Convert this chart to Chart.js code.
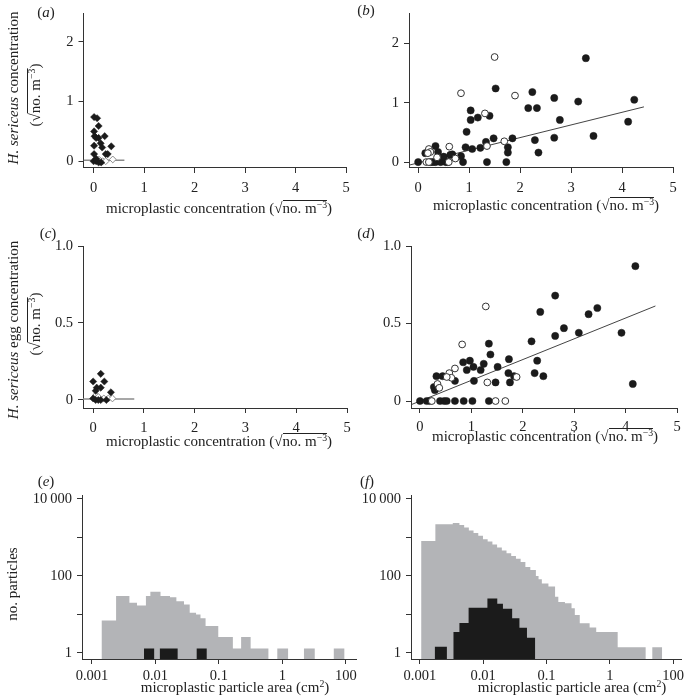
<!DOCTYPE html>
<html>
<head>
<meta charset="utf-8">
<script src="https://cdn.jsdelivr.net/npm/chart.js@4.4.1/dist/chart.umd.min.js"></script>
<style>
  body { margin: 0; background: #fff; }
  #fig { position: relative; width: 687px; height: 699px; overflow: hidden;
         font-family: "Liberation Serif", "Times New Roman", serif; color: #222; }
  #fig canvas { position: absolute; left: 0; top: 0; }
  .lbl { position: absolute; white-space: nowrap; font-size: 15px; line-height: 1;
         transform: translate(-50%, -50%); }
  .lbl.rot { transform: translate(-50%, -50%) rotate(-90deg); }
  .rt { display: inline-block; line-height: 12px; padding-top: 1px; border-top: 1px solid #222; }
  .sp { font-size: 65%; position: relative; top: -0.5em; }
</style>
</head>
<body>
<div id="fig"></div>
<script>
// ---- (a) adult concentration vs microplastic, first survey (diamonds)
const aSolidX = [0.01, 0.07, 0.10, 0.01, 0.02, 0.05, 0.10, 0.22, 0.14, 0.17, 0.01, 0.35, 0.01, 0.24, 0.28, 0.00, 0.05, 0.10, 0.15, 0.05];
const aSolidY = [0.74, 0.72, 0.59, 0.50, 0.42, 0.39, 0.39, 0.42, 0.30, 0.23, 0.26, 0.25, 0.12, 0.12, 0.12, 0.00, 0.00, -0.02, -0.02, 0.04];
const aOpenX = [0.10, 0.14, 0.18, 0.24, 0.38];
const aOpenY = [0.03, 0.00, 0.00, 0.00, 0.03];
const aFitX = [-0.2, 0.61];
const aFitY = [0.016, 0.016];

// ---- (b) adult concentration vs microplastic, second survey (circles)
const bSolidX = [0.00, 0.14, 0.24, 0.29, 0.34, 0.34, 0.39, 0.44, 0.50, 0.54, 0.58, 0.67, 0.63, 0.84, 0.88, 0.93, 0.95, 1.03, 1.03, 1.06, 1.17, 1.22,
                 1.33, 1.35, 1.40, 1.48, 1.52, 1.73, 1.76, 1.76, 1.85, 2.16, 2.24, 2.29, 2.33, 2.36, 2.67, 2.67, 2.78, 3.14, 3.29, 3.44, 4.12, 4.24];
const bSolidY = [0.00, 0.15, 0.00, 0.00, 0.27, 0.00, 0.17, 0.00, 0.09, 0.00, 0.00, 0.13, 0.12, 0.10, 0.00, 0.25, 0.51, 0.87, 0.71, 0.22, 0.75, 0.24,
                 0.34, 0.00, 0.78, 0.40, 1.24, 0.00, 0.25, 0.16, 0.40, 0.91, 1.18, 0.37, 0.91, 0.16, 0.41, 1.08, 0.71, 1.02, 1.75, 0.44, 0.68, 1.05];
const bOpenX = [1.50, 0.84, 1.90, 1.31, 0.61, 0.21, 0.24, 0.19, 1.35, 1.69, 0.73, 0.16, 0.21, 0.60, 0.37];
const bOpenY = [1.77, 1.16, 1.12, 0.82, 0.26, 0.22, 0.17, 0.15, 0.27, 0.35, 0.06, 0.00, 0.00, 0.00, 0.08];
const bFitX = [-0.17, 4.43];
const bFitY = [-0.05, 0.93];

// ---- (c) egg concentration, first survey
const cSolidX = [0.15, 0.00, 0.22, 0.07, 0.15, 0.05, 0.35, 0.00, 0.05, 0.10, 0.15, 0.26];
const cSolidY = [0.17, 0.12, 0.12, 0.08, 0.08, 0.06, 0.05, 0.01, 0.00, 0.00, 0.00, 0.00];
const cOpenX = [0.05, 0.10, 0.21, 0.30, 0.38];
const cOpenY = [0.03, 0.02, 0.01, 0.01, 0.01];
const cFitX = [-0.2, 0.81];
const cFitY = [0.007, 0.007];

// ---- (d) egg concentration, second survey
const dSolidX = [0.00, 0.13, 0.19, 0.27, 0.29, 0.32, 0.39, 0.44, 0.47, 0.52, 0.68, 0.68, 0.84, 0.85, 0.91, 0.97, 1.02, 1.04, 1.05, 1.18, 1.24, 1.34,
                 1.34, 1.37, 1.47, 1.51, 1.73, 1.72, 1.75, 1.83, 2.17, 2.23, 2.28, 2.34, 2.40, 2.63, 2.63, 2.80, 3.09, 3.28, 3.45, 3.92, 4.14, 4.19];
const dSolidY = [0.00, 0.00, 0.00, 0.09, 0.07, 0.16, 0.00, 0.16, 0.00, 0.00, 0.13, 0.00, 0.25, 0.00, 0.20, 0.26, 0.00, 0.22, 0.13, 0.20, 0.24, 0.37,
                 0.00, 0.30, 0.12, 0.22, 0.27, 0.18, 0.12, 0.16, 0.385, 0.18, 0.26, 0.575, 0.16, 0.42, 0.68, 0.47, 0.44, 0.56, 0.60, 0.44, 0.11, 0.87];
const dOpenX = [1.28, 0.82, 0.68, 0.57, 0.61, 0.52, 0.34, 0.375, 1.31, 1.88, 1.47, 1.66, 0.23];
const dOpenY = [0.61, 0.365, 0.21, 0.18, 0.15, 0.155, 0.11, 0.085, 0.12, 0.155, 0.00, 0.00, 0.00];
const dFitX = [-0.16, 4.58];
const dFitY = [-0.022, 0.613];

// ---- (e),(f) particle area histograms: bin edges in log10(cm2), counts per bin
const eGreyEdges = [-2.85, -2.62, -2.41, -2.29, -2.15, -2.08, -1.92, -1.77, -1.67, -1.55, -1.46, -1.36, -1.29, -1.21, -1.01, -0.78, -0.65,
                    -0.50, -0.22, -0.08, 0.09, 0.34, 0.51, 0.81, 0.98];
const eGreyCounts = [7, 30, 20, 17, 30, 39, 30, 28, 22, 18, 11, 10, 8, 5, 2.6, 1.3, 2.6, 1.3, 0, 1.3, 0, 1.3, 0, 1.3];
const eBlackEdges = [-2.18, -2.02, -1.93, -1.65, -1.35, -1.19];
const eBlackCounts = [1.3, 0, 1.3, 0, 1.3];

const fGreyEdges = [-2.98, -2.755, -2.48, -2.375, -2.30, -2.226, -2.152, -2.077, -2.003, -1.929, -1.854, -1.78, -1.705, -1.631, -1.557, -1.482,
                    -1.408, -1.333, -1.255, -1.167, -1.125, -1.073, -0.969, -0.864, -0.8125, -0.708, -0.604, -0.552, -0.474, -0.318, -0.214,
                    0.125, 0.567, 0.672, 0.828];
const fGreyCounts = [810, 2200, 2350, 2100, 1800, 1500, 1300, 1100, 900, 780, 650, 550, 460, 390, 330, 280, 230,
                     170, 143, 100, 82, 64, 53, 29, 21, 19.5, 14.5, 9.7, 5.9, 4.6, 3.5, 1.4, 0, 1.4];
const fBlackEdges = [-2.766, -2.573, -2.469, -2.375, -2.23, -1.933, -1.777, -1.6875, -1.542, -1.427, -1.308, -1.177];
const fBlackCounts = [1.45, 0, 3.5, 6, 15, 26, 19, 14, 8, 4.5, 2.5];

// ---- axis ticks
const concTicks = [0, 1, 2, 3, 4, 5];
const concLabels = ['0', '1', '2', '3', '4', '5'];
const adultTicks = [0, 1, 2];
const adultLabels = ['0', '1', '2'];
const eggTicks = [0, 0.5, 1];
const eggLabels = ['0', '0.5', '1.0'];
const areaTicks = [-3, -2, -1, 0, 1];
const areaLabels = ['0.001', '0.01', '0.1', '1', '100'];
const countTicks = [1, 10, 100, 1000, 10000];
const countLabels = ['1', '', '100', '', '10\u2009000'];

const W = 687, H = 699, YW = 60, XH = 40;
const COUNT_MIN = 0.698;
const FONT = "'Liberation Serif', 'Times New Roman', serif";
const INK = '#222';
const GREY = '#b3b4b7';
const BLACK = '#1b1b1b';

const pts = (xs, ys) => xs.map((x, i) => ({ x, y: ys[i] }));

// stepped outline for a histogram; empty bins sit on the bottom of the log axis
function steps(edges, counts) {
  const v = c => (c > 0 ? c : COUNT_MIN);
  const out = counts.map((c, i) => ({ x: edges[i], y: v(c) }));
  out.push({ x: edges[edges.length - 1], y: COUNT_MIN });
  return out;
}

function axis(dir, o) {
  return {
    type: o.type || 'linear',
    position: dir === 'x' ? 'bottom' : 'left',
    bounds: 'data',
    min: o.min,
    max: o.max,
    afterFit: s => { if (dir === 'x') s.height = XH; else s.width = YW; },
    afterBuildTicks: s => { s.ticks = o.ticks.map(v => ({ value: v })); },
    grid: { display: true, drawOnChartArea: false, drawTicks: true, tickLength: 5, color: '#333', lineWidth: 1 },
    border: { display: true, color: '#333', width: 1 },
    ticks: {
      autoSkip: false, maxRotation: 0, minRotation: 0,
      padding: o.pad, color: INK,
      font: { family: FONT, size: 14.5 },
      callback: (v, i) => o.labels[i]
    }
  };
}

function panel(box, xo, yo, datasets) {
  const cv = document.createElement('canvas');
  cv.width = W;
  cv.height = H;
  document.getElementById('fig').appendChild(cv);
  return new Chart(cv, {
    type: 'scatter',
    data: { datasets },
    options: {
      responsive: false,
      animation: false,
      devicePixelRatio: 1,
      events: [],
      layout: { padding: { left: box.left - YW, top: box.top, right: W - box.right, bottom: H - box.bottom - XH } },
      plugins: { legend: { display: false }, tooltip: { enabled: false } },
      scales: { x: axis('x', xo), y: axis('y', yo) }
    }
  });
}

const solid = (data, style) => ({ data, pointStyle: style, pointRadius: 3.6, pointBackgroundColor: BLACK, pointBorderColor: BLACK, pointBorderWidth: 0.5 });
const hollow = (data, style, col) => ({ data, pointStyle: style, pointRadius: 3.4, pointBackgroundColor: '#fff', pointBorderColor: col, pointBorderWidth: 1 });
const fit = (data, col, w) => ({ type: 'line', data, borderColor: col, borderWidth: w, pointRadius: 0, fill: false, tension: 0 });
const hist = (data, col) => ({ type: 'line', data, stepped: 'before', fill: 'start', backgroundColor: col, borderColor: 'rgba(0,0,0,0)', borderWidth: 0, pointRadius: 0 });

// (a)
panel({ left: 83.5, top: 8, right: 346, bottom: 168 },
  { min: -0.2, max: 5.0, ticks: concTicks, labels: concLabels, pad: 6 },
  { min: -0.113, max: 2.47, ticks: adultTicks, labels: adultLabels, pad: 5 },
  [solid(pts(aSolidX, aSolidY), 'rectRot'), hollow(pts(aOpenX, aOpenY), 'rectRot', '#8a8a8a'), fit(pts(aFitX, aFitY), '#8a8a8a', 1.5)]);

// (b)
panel({ left: 409, top: 7, right: 673, bottom: 168 },
  { min: -0.18, max: 5.0, ticks: concTicks, labels: concLabels, pad: 6 },
  { min: -0.1, max: 2.5, ticks: adultTicks, labels: adultLabels, pad: 5 },
  [hollow(pts(bOpenX, bOpenY), 'circle', '#333'), solid(pts(bSolidX, bSolidY), 'circle'), fit(pts(bFitX, bFitY), '#444', 1)]);

// (c)
panel({ left: 83, top: 246, right: 347, bottom: 408 },
  { min: -0.2, max: 5.0, ticks: concTicks, labels: concLabels, pad: 6 },
  { min: -0.052, max: 1.0, ticks: eggTicks, labels: eggLabels, pad: 5 },
  [solid(pts(cSolidX, cSolidY), 'rectRot'), hollow(pts(cOpenX, cOpenY), 'rectRot', '#8a8a8a'), fit(pts(cFitX, cFitY), '#8a8a8a', 1.5)]);

// (d)
panel({ left: 411, top: 246, right: 677, bottom: 408 },
  { min: -0.175, max: 5.0, ticks: concTicks, labels: concLabels, pad: 5 },
  { min: -0.045, max: 1.0, ticks: eggTicks, labels: eggLabels, pad: 5 },
  [hollow(pts(dOpenX, dOpenY), 'circle', '#333'), solid(pts(dSolidX, dSolidY), 'circle'), fit(pts(dFitX, dFitY), '#444', 1)]);

// (e)
panel({ left: 82, top: 495, right: 356, bottom: 659 },
  { min: -3.157, max: 1.16, ticks: areaTicks, labels: areaLabels, pad: 3 },
  { type: 'logarithmic', min: COUNT_MIN, max: 12600, ticks: countTicks, labels: countLabels, pad: 5 },
  [hist(steps(eBlackEdges, eBlackCounts), BLACK), hist(steps(eGreyEdges, eGreyCounts), GREY)]);

// (f)
panel({ left: 411, top: 495, right: 685, bottom: 659 },
  { min: -3.14, max: 1.14, ticks: areaTicks, labels: areaLabels, pad: 3 },
  { type: 'logarithmic', min: COUNT_MIN, max: 12600, ticks: countTicks, labels: countLabels, pad: 5 },
  [hist(steps(fBlackEdges, fBlackCounts), BLACK), hist(steps(fGreyEdges, fGreyCounts), GREY)]);

// ---- text around the panels
const root = '(\u221A<span class="rt">no. m<span class="sp">\u22123</span></span>)';
const concTitle = 'microplastic concentration ' + root;
const areaTitle = 'microplastic particle area (cm<span class="sp">2</span>)';
const texts = [
  { html: '(<i>a</i>)', x: 46, y: 12 },
  { html: '(<i>b</i>)', x: 366, y: 10 },
  { html: '(<i>c</i>)', x: 48, y: 233 },
  { html: '(<i>d</i>)', x: 366, y: 233 },
  { html: '(<i>e</i>)', x: 46, y: 481 },
  { html: '(<i>f</i>)', x: 367, y: 481 },
  { html: '<i>H. sericeus</i> concentration', x: 13, y: 88, rot: true },
  { html: root, x: 35, y: 95, rot: true },
  { html: '<i>H. sericeus</i> egg concentration', x: 13, y: 330, rot: true },
  { html: root, x: 35, y: 324, rot: true },
  { html: 'no. particles', x: 12, y: 584, rot: true },
  { html: concTitle, x: 219, y: 208 },
  { html: concTitle, x: 546, y: 205 },
  { html: concTitle, x: 219, y: 441 },
  { html: concTitle, x: 545, y: 436 },
  { html: areaTitle, x: 235, y: 687 },
  { html: areaTitle, x: 572, y: 687 }
];
texts.forEach(t => {
  const d = document.createElement('div');
  d.className = 'lbl' + (t.rot ? ' rot' : '');
  d.style.left = t.x + 'px';
  d.style.top = t.y + 'px';
  d.innerHTML = t.html;
  document.getElementById('fig').appendChild(d);
});
</script>
</body>
</html>
